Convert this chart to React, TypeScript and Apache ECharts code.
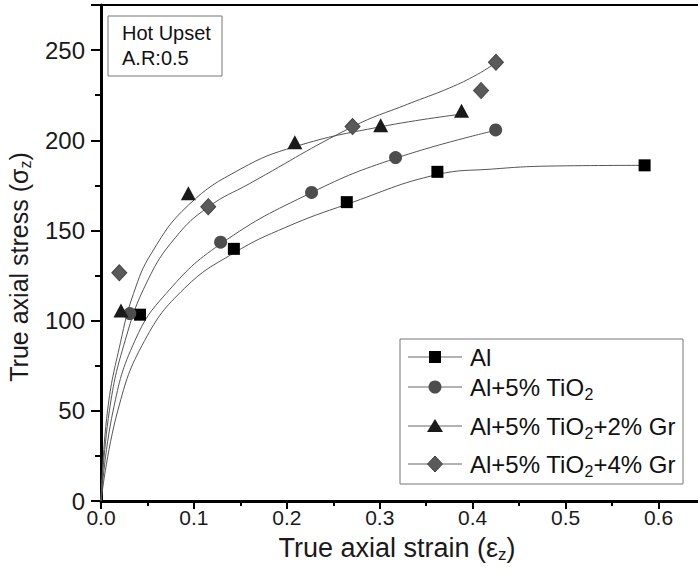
import React, { useEffect, useRef } from "react";
import * as echarts from "echarts";

// ---- marker data ----
const alX = [0.042, 0.143, 0.2645, 0.362, 0.585];
const alY = [103.3, 139.8, 165.7, 182.5, 186.1];
const tiX = [0.031, 0.1287, 0.2266, 0.317, 0.4247];
const tiY = [103.9, 143.5, 171.1, 190.4, 205.7];
const gr2X = [0.0215, 0.094, 0.2086, 0.301, 0.388];
const gr2Y = [105.6, 170.6, 198.9, 208.3, 216.3];
const gr4X = [0.0197, 0.1154, 0.2707, 0.409, 0.425];
const gr4Y = [126.5, 163.2, 207.6, 227.6, 243.2];

// ---- fitted curves ----
const alCurveX = [0, 0.018, 0.047, 0.09, 0.143, 0.2, 0.2645, 0.362, 0.42, 0.483, 0.585];
const alCurveY = [0, 50, 89, 118, 137.5, 152, 164.5, 181, 184, 185.7, 186.1];
const tiCurveX = [0, 0.013, 0.0366, 0.07, 0.1287, 0.2266, 0.317, 0.4247];
const tiCurveY = [0, 50, 89, 115, 142.5, 171, 190, 205.5];
const gr2CurveX = [0, 0.007, 0.021, 0.035, 0.055, 0.094, 0.15, 0.209, 0.301, 0.388];
const gr2CurveY = [0, 50, 88, 115, 138, 164, 184, 196.5, 207.5, 214.5];
const gr4CurveX = [0, 0.009, 0.026, 0.05, 0.08, 0.1154, 0.16, 0.2707, 0.33, 0.375, 0.405, 0.425];
const gr4CurveY = [0, 50, 89, 122, 146, 163, 176, 207.5, 220, 229, 236.5, 243];

const legendNames = ["Al", "Al+5% TiO{s|2}", "Al+5% TiO{s|2}+2% Gr", "Al+5% TiO{s|2}+4% Gr"];
const annotation = ["Hot Upset", "A.R:0.5"];

const FONT = '"Liberation Sans", Arial, Helvetica, sans-serif';

const zip = (xs: number[], ys: number[]) => xs.map((x, i) => [x, ys[i]]);

export default function App() {
  const ref = useRef<HTMLDivElement>(null);
  useEffect(() => {
    if (!ref.current) return;
    const chart = echarts.init(ref.current, undefined, { renderer: "svg" });

    const curve = (xs: number[], ys: number[]) => ({
      type: "line",
      data: zip(xs, ys),
      smooth: 0.45,
      symbol: "none",
      showSymbol: false,
      lineStyle: { color: "#555", width: 1 },
      z: 2,
      silent: true,
    });
    const marks = (xs: number[], ys: number[], symbol: string, size: any, color: string, border?: string) => ({
      type: "scatter",
      data: zip(xs, ys),
      symbol,
      symbolSize: size,
      itemStyle: { color, borderColor: border || color, borderWidth: border ? 1 : 0, opacity: 1 },
      z: 3,
      silent: true,
    });

    const legendRowsY = [357, 387, 426, 464];
    const legendSymbols: any[] = [
      { type: "rect", shape: { x: 429, y: legendRowsY[0] - 6, width: 12, height: 12 }, style: { fill: "#000" } },
      { type: "circle", shape: { cx: 435, cy: legendRowsY[1], r: 6.5 }, style: { fill: "#4d4d4d" } },
      {
        type: "polygon",
        shape: { points: [[435, legendRowsY[2] - 7], [443, legendRowsY[2] + 6], [427, legendRowsY[2] + 6]] },
        style: { fill: "#1a1a1a" },
      },
      {
        type: "polygon",
        shape: { points: [[435, legendRowsY[3] - 8], [442.5, legendRowsY[3]], [435, legendRowsY[3] + 8], [427.5, legendRowsY[3]]] },
        style: { fill: "#5a5a5a", stroke: "#444", lineWidth: 1 },
      },
    ];
    const legendElems: any[] = [
      {
        type: "rect",
        shape: { x: 400, y: 339, width: 283, height: 145 },
        style: { fill: "#fff", stroke: "#777", lineWidth: 1 },
        z: 10,
      },
    ];
    legendRowsY.forEach((y, i) => {
      legendElems.push({
        type: "line",
        shape: { x1: 408, y1: y, x2: 462, y2: y },
        style: { stroke: "#666", lineWidth: 1 },
        z: 11,
      });
      legendElems.push({ ...legendSymbols[i], z: 12 });
      legendElems.push({
        type: "text",
        x: 470,
        y: y,
        style: {
          text: legendNames[i],
          font: `24px ${FONT}`,
          fill: "#111",
          verticalAlign: "middle",
          align: "left",
          rich: {
            s: { fontSize: 16, fontFamily: FONT, fill: "#111", verticalAlign: "bottom", padding: [15, 0, 0, 0] },
          },
        },
        z: 12,
      });
    });

    // label-less axes that only carry tick marks
    const tickAxisX = (interval: number, length: number) => ({
      type: "value",
      min: 0,
      max: 0.65,
      interval,
      position: "bottom",
      axisLine: { show: false },
      axisTick: { show: true, length, lineStyle: { color: "#000", width: 2 } },
      axisLabel: { show: false },
      splitLine: { show: false },
    });
    const tickAxisY = (interval: number, length: number) => ({
      type: "value",
      min: 0,
      max: 275,
      interval,
      position: "left",
      axisLine: { show: false },
      axisTick: { show: true, length, lineStyle: { color: "#000", width: 2 } },
      axisLabel: { show: false },
      splitLine: { show: false },
    });
    const topAxisX = {
      type: "value",
      min: 0,
      max: 0.65,
      position: "top",
      axisLine: { show: true, lineStyle: { color: "#000", width: 2 } },
      axisTick: { show: false },
      axisLabel: { show: false },
      splitLine: { show: false },
    };

    const option: any = {
      animation: false,
      grid: {
        left: 101,
        top: 5,
        width: 604,
        height: 496,
        containLabel: false,
        outerBoundsMode: "none",
      },
      xAxis: [
        {
          type: "value",
          min: 0,
          max: 0.65,
          interval: 0.1,
          name: "True axial strain (ε{s|z})",
          nameLocation: "middle",
          nameGap: 32,
          nameTextStyle: {
            fontSize: 27,
            fontFamily: FONT,
            color: "#1a1a1a",
            padding: [0, 12, 0, 0],
            rich: { s: { fontSize: 17, fontFamily: FONT, color: "#1a1a1a", verticalAlign: "bottom", padding: [13, 0, 0, 0] } },
          },
          axisLine: { show: true, lineStyle: { color: "#000", width: 3 } },
          axisTick: { show: false },
          axisLabel: {
            show: true,
            margin: 6,
            fontSize: 21,
            fontFamily: FONT,
            color: "#1a1a1a",
            showMaxLabel: false,
            formatter: (v: number) => v.toFixed(1),
          },
          splitLine: { show: false },
        },
        tickAxisX(0.1, 8),
        tickAxisX(0.05, 5),
        topAxisX,
      ],
      yAxis: [
        {
          type: "value",
          min: 0,
          max: 275,
          interval: 50,
          name: "True axial stress (σ{s|z})",
          nameLocation: "middle",
          nameGap: 68,
          nameTextStyle: {
            fontSize: 25,
            fontFamily: FONT,
            color: "#1a1a1a",
            padding: [0, 28, 0, 0],
            rich: { s: { fontSize: 16, fontFamily: FONT, color: "#1a1a1a", verticalAlign: "bottom", padding: [12, 0, 0, 0] } },
          },
          axisLine: { show: true, lineStyle: { color: "#000", width: 3 } },
          axisTick: { show: false },
          axisLabel: {
            show: true,
            margin: 16,
            fontSize: 24,
            fontFamily: FONT,
            color: "#1a1a1a",
            showMaxLabel: false,
          },
          splitLine: { show: false },
        },
        tickAxisY(50, 10),
        tickAxisY(25, 6),
      ],
      series: [
        curve(alCurveX, alCurveY),
        curve(tiCurveX, tiCurveY),
        curve(gr2CurveX, gr2CurveY),
        curve(gr4CurveX, gr4CurveY),
        marks(alX, alY, "rect", 12, "#000"),
        marks(tiX, tiY, "circle", 13, "#4d4d4d"),
        marks(gr2X, gr2Y, "triangle", [15, 14], "#1a1a1a"),
        marks(gr4X, gr4Y, "diamond", [15, 16], "#5a5a5a", "#444"),
      ],
      graphic: [
        {
          type: "rect",
          shape: { x: 108, y: 16, width: 114, height: 60 },
          style: { fill: "#fff", stroke: "#777", lineWidth: 1 },
          z: 10,
        },
        {
          type: "text",
          x: 122,
          y: 33,
          style: { text: annotation[0], font: `20px ${FONT}`, fill: "#111", verticalAlign: "middle" },
          z: 11,
        },
        {
          type: "text",
          x: 122,
          y: 58,
          style: { text: annotation[1], font: `20px ${FONT}`, fill: "#111", verticalAlign: "middle" },
          z: 11,
        },
        ...legendElems,
      ],
    };
    chart.setOption(option);
    return () => chart.dispose();
  }, []);
  return (
    <div
      ref={ref}
      style={{ position: "absolute", left: 0, top: 0, width: 698, height: 575, background: "#fff" }}
    />
  );
}
